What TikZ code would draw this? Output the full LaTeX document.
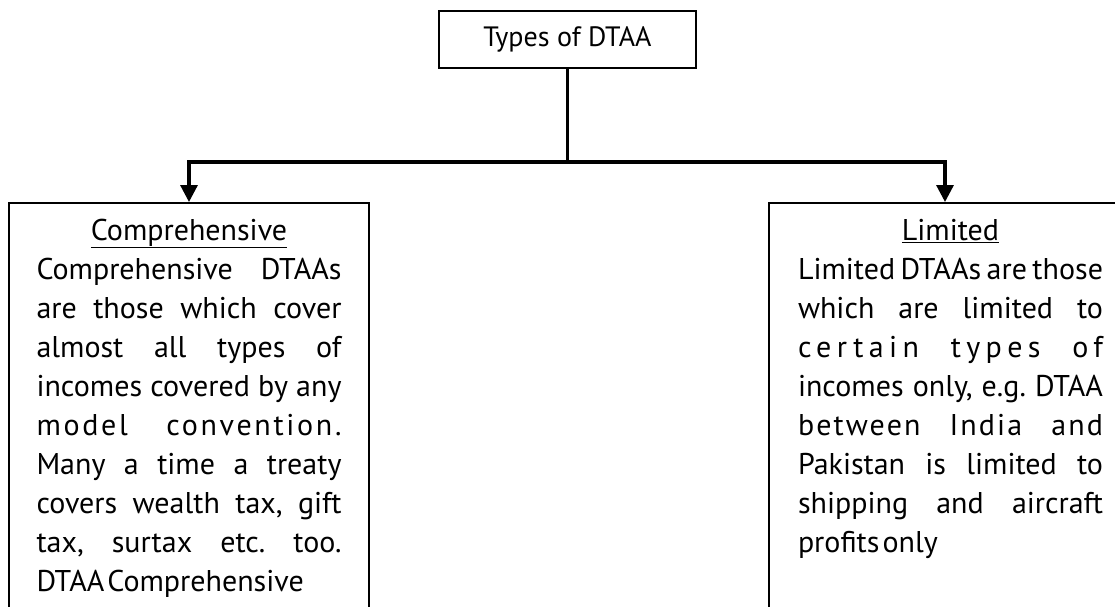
\documentclass[tikz,border=0pt]{standalone}
\usepackage{fontspec}
\setmainfont{PT Sans}
\usetikzlibrary{arrows.meta}
\frenchspacing
\newlength\tw
\setlength\tw{305pt}
% narrow word spaces that stretch to justify each line
\newcommand\narrowspaces{\spaceskip=0.1em plus 3em minus 0.1em\relax}
% one justified line of the given width
\newcommand\jl[1]{\makebox[\tw][s]{\narrowspaces#1}}
% a justified line with extra tracking
\newcommand\lsl[2]{\makebox[\tw][s]{\narrowspaces\addfontfeature{LetterSpace=#1}#2}}
% the closing, unjustified line
\newcommand\lastline[1]{\makebox[\tw][l]{\narrowspaces#1}}
\begin{document}
\begin{tikzpicture}[x=1pt,y=-1pt,
  box/.style={draw, line width=2pt, inner sep=0},
  link/.style={line width=3.2pt},
  arr/.style={link, -{Triangle[width=17pt,length=17pt]}},
  txt/.style={inner sep=0, anchor=base, font=\fontsize{30}{39}\selectfont}]
\useasboundingbox (0,0) rectangle (1115,606);
\clip (0,0) rectangle (1115,606);

% root
\node[box, minimum width=257pt, minimum height=57pt,
      font=\fontsize{28}{34}\selectfont] (top) at (567.5,39) {Types of DTAA};

% the two category boxes (they run past the lower edge)
\node[box, minimum width=360pt, minimum height=440pt, anchor=north] (comp) at (189,202) {};
\node[box, minimum width=352pt, minimum height=440pt, anchor=north west] (lim) at (768,202) {};

% connectors
\coordinate (j) at (567.5,162);
\draw[link] (top.south) -- (j);
\draw[arr] (j) -| (comp.north);
\draw[arr] (j) -| (lim.north);

% texts
\node[txt] (comptext) at (189,240) {\parbox[t]{\tw}{\centering
  \underline{Comprehensive}\\
  \jl{Comprehensive DTAAs}\\
  \jl{are those which cover}\\
  \jl{almost all types of}\\
  \jl{incomes covered by any}\\
  \lsl{9}{model convention.}\\
  \jl{Many a time a treaty}\\
  \jl{covers wealth tax, gift}\\
  \jl{tax, surtax etc. too.}\\
  \lastline{DTAA Comprehensive}}};

\node[txt] (limtext) at (950.5,240) {\parbox[t]{\tw}{\centering
  \underline{Limited}\\
  \jl{Limited DTAAs are those}\\
  \jl{which are limited to}\\
  \lsl{18}{certain types of}\\
  \jl{incomes only, e.g. DTAA}\\
  \lsl{7}{between India and}\\
  \jl{Pakistan is limited to}\\
  \jl{shipping and aircraft}\\
  \lastline{profits only}}};
\end{tikzpicture}
\end{document}
